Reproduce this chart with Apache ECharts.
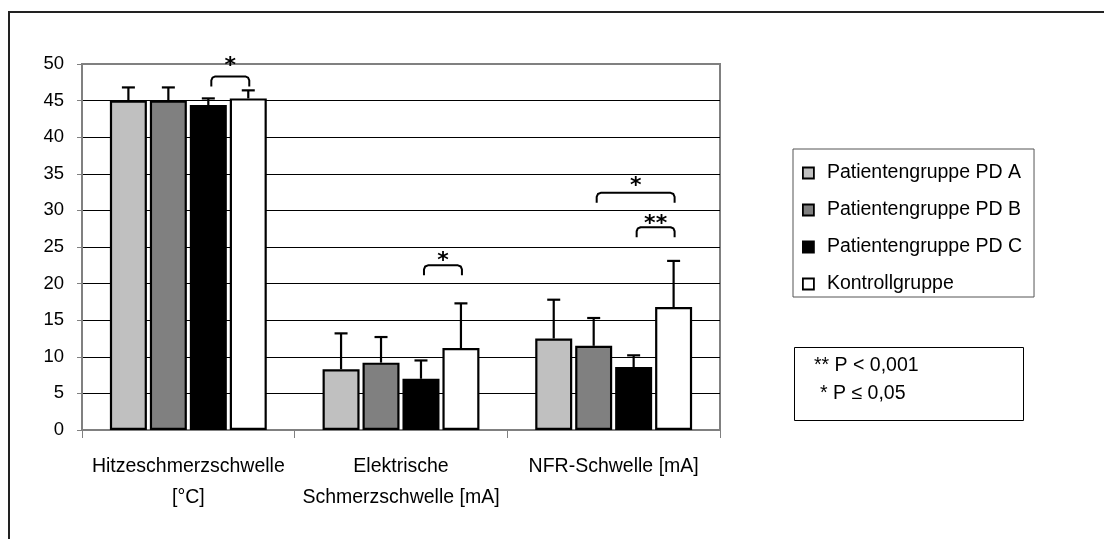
<!DOCTYPE html>
<html>
<head>
<meta charset="utf-8">
<script src="https://cdn.jsdelivr.net/npm/echarts@6/dist/echarts.min.js"></script>
<style>
html,body{margin:0;padding:0;background:#fff;}
#c{width:1104px;height:539px;}
</style>
</head>
<body>
<div id="c"></div>
<script>
// ---- data ----
const categories = ['Hitzeschmerzschwelle\n[°C]', 'Elektrische\nSchmerzschwelle [mA]', 'NFR-Schwelle [mA]'];
const seriesNames = ['Patientengruppe PD A', 'Patientengruppe PD B', 'Patientengruppe PD C', 'Kontrollgruppe'];
const valuesA = [45.0, 8.3, 12.5];
const valuesB = [45.0, 9.2, 11.5];
const valuesC = [44.4, 7.0, 8.6];
const valuesK = [45.3, 11.2, 16.8];
const sdA = [1.8, 4.9, 5.3];
const sdB = [1.8, 3.5, 3.8];
const sdC = [0.9, 2.5, 1.6];
const sdK = [1.1, 6.1, 6.3];
const yTicks = [0, 5, 10, 15, 20, 25, 30, 35, 40, 45, 50];
// significance brackets
const sigCategory = [0, 1, 2, 2];
const sigFrom = [2, 2, 1, 2];
const sigTo = [3, 3, 3, 3];
const sigLevel = [48.3, 22.5, 32.4, 27.7];
const sigLabelLevel = [50.6, 23.9, 34.2, 29.0];
const sigLabel = ['*', '*', '*', '**'];
const pNotes = ['** P < 0,001', '* P \u2264 0,05'];

// ---- styling constants ----
const FONT = 'Liberation Sans, Arial, sans-serif';
const FS = 19.5;
const colors = ['#c0c0c0', '#808080', '#000000', '#ffffff'];
const BAR_W = 37;
const BAR_GAP = 0.08;
const nBars = 4;

const allValues = [valuesA, valuesB, valuesC, valuesK];
const allSd = [sdA, sdB, sdC, sdK];

function barOffset(k) {
  return (k - (nBars - 1) / 2) * (BAR_W * (1 + BAR_GAP));
}

const errData = [];
for (let s = 0; s < nBars; s++) {
  for (let i = 0; i < categories.length; i++) {
    errData.push([i, allValues[s][i], allValues[s][i] + allSd[s][i], s]);
  }
}
const sigData = sigCategory.map((c, j) => [c, sigLevel[j], sigFrom[j], sigTo[j], sigLabelLevel[j], j]);

const chart = echarts.init(document.getElementById('c'), null, {renderer: 'canvas'});

const barSeries = seriesNames.map((name, s) => ({
  name: name,
  type: 'bar',
  data: allValues[s],
  barWidth: BAR_W,
  barGap: (BAR_GAP * 100) + '%',
  itemStyle: {color: colors[s], borderColor: '#000', borderWidth: 2.2},
  z: 3
}));

const STAR_FS = 22;

const option = {
  animation: false,
  backgroundColor: '#fff',
  grid: {
    left: 82, top: 64, right: 384, bottom: 109,
    show: true, borderColor: '#808080', borderWidth: 2, backgroundColor: 'transparent'
  },
  legend: {
    data: seriesNames,
    orient: 'vertical',
    left: 793, top: 149,
    padding: [14, 12, 3, 9],
    itemGap: 17,
    itemWidth: 11, itemHeight: 11,
    icon: 'rect',
    itemStyle: {borderColor: '#000', borderWidth: 1.8},
    borderColor: '#555', borderWidth: 1,
    backgroundColor: '#fff',
    textStyle: {fontFamily: FONT, fontSize: FS, lineHeight: 20, color: '#000', padding: [0, 0, 0, 8]}
  },
  xAxis: {
    type: 'category',
    data: categories,
    axisLine: {lineStyle: {color: '#808080', width: 2}},
    axisTick: {show: true, length: 8, lineStyle: {color: '#808080', width: 1}},
    axisLabel: {interval: 0, fontFamily: FONT, fontSize: FS, lineHeight: 31, color: '#000', margin: 21, align: 'center'},
    splitLine: {show: false}
  },
  yAxis: {
    type: 'value',
    min: yTicks[0], max: yTicks[yTicks.length - 1], interval: yTicks[1] - yTicks[0],
    axisLine: {show: true, lineStyle: {color: '#808080', width: 2}},
    axisTick: {show: true, length: 5, lineStyle: {color: '#808080', width: 1}},
    axisLabel: {fontFamily: FONT, fontSize: 18.5, color: '#000', margin: 18},
    splitLine: {show: true, showMinLine: false, showMaxLine: false, lineStyle: {color: '#000', width: 1}}
  },
  series: barSeries.concat([
    {
      type: 'custom',
      name: 'err',
      data: errData,
      encode: {x: 0, y: 2},
      z: 5,
      clip: false,
      silent: true,
      renderItem: function (params, api) {
        const cat = api.value(0);
        const s = api.value(3);
        const base = api.coord([cat, api.value(1)]);
        const top = api.coord([cat, api.value(2)]);
        const x = base[0] + barOffset(s);
        const cap = 6.5;
        return {
          type: 'group',
          children: [
            {type: 'line', shape: {x1: x, y1: base[1], x2: x, y2: top[1]}, style: {stroke: '#000', lineWidth: 2.2}},
            {type: 'line', shape: {x1: x - cap, y1: top[1], x2: x + cap, y2: top[1]}, style: {stroke: '#000', lineWidth: 2.2}}
          ]
        };
      }
    },
    {
      type: 'custom',
      name: 'sig',
      data: sigData,
      encode: {x: 0, y: 1},
      z: 6,
      clip: false,
      silent: true,
      renderItem: function (params, api) {
        const cat = api.value(0);
        const p = api.coord([cat, api.value(1)]);
        const pl = api.coord([cat, api.value(4)]);
        const x1 = p[0] + barOffset(api.value(2)) + 3;
        const x2 = p[0] + barOffset(api.value(3)) + 1;
        const y = p[1];
        const drop = 10, r = 4;
        const label = sigLabel[api.value(5)];
        return {
          type: 'group',
          children: [
            {type: 'polyline', shape: {points: [[x1, y + drop], [x1, y + r], [x1 + 1.2, y + 1.2], [x1 + r, y], [x2 - r, y], [x2 - 1.2, y + 1.2], [x2, y + r], [x2, y + drop]]},
             style: {stroke: '#000', lineWidth: 2, fill: 'none', lineJoin: 'round'}},
            {type: 'text', x: (x1 + x2) / 2, y: pl[1] + STAR_FS * 0.29,
             style: {text: label, fontFamily: 'DejaVu Sans, sans-serif', fontWeight: 'bold', fontSize: STAR_FS, fill: '#000', align: 'center', verticalAlign: 'middle'}}
          ]
        };
      }
    }
  ]),
  graphic: [
    {type: 'rect', silent: true, z: -10, shape: {x: 9, y: 12, width: 1200, height: 600},
     style: {fill: 'none', stroke: '#222', lineWidth: 2}},
    {type: 'rect', silent: true, shape: {x: 794.5, y: 347.5, width: 229, height: 73},
     style: {fill: '#fff', stroke: '#000', lineWidth: 1}},
    {type: 'text', silent: true, x: 814, y: 366,
     style: {text: pNotes[0], fontFamily: FONT, fontSize: FS, fill: '#000', verticalAlign: 'middle'}},
    {type: 'text', silent: true, x: 820, y: 394,
     style: {text: pNotes[1], fontFamily: FONT, fontSize: FS, fill: '#000', verticalAlign: 'middle'}}
  ]
};
chart.setOption(option);
</script>
</body>
</html>
